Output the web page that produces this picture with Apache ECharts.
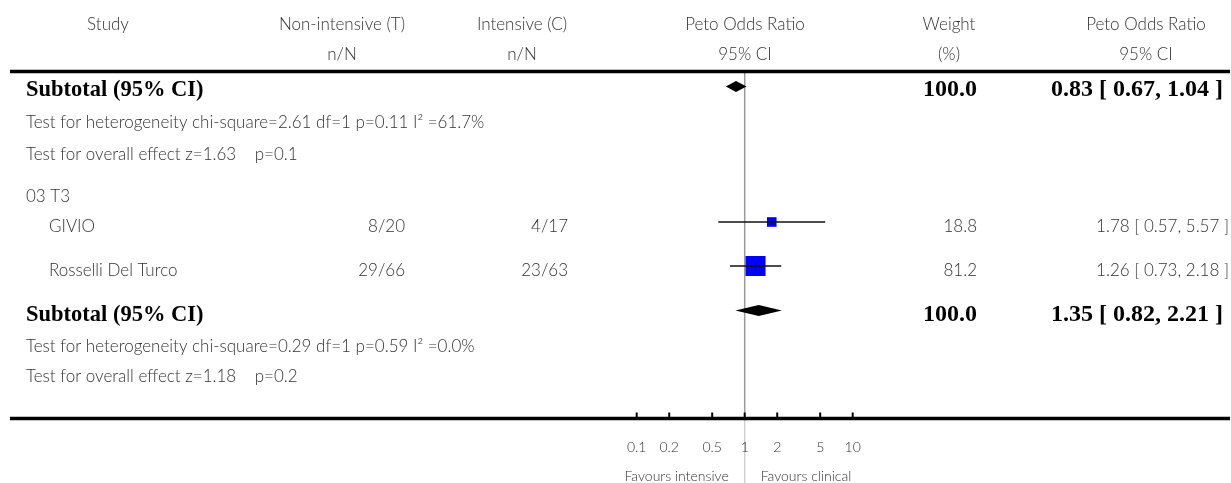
<!DOCTYPE html>
<html><head><meta charset="utf-8">
<script src="https://cdn.jsdelivr.net/npm/echarts@6/dist/echarts.min.js"></script>
<style>html,body{margin:0;padding:0;background:#fff}#c{width:1231px;height:483px}</style>
</head><body><div id="c"></div>
<script>
// ---------- data ----------
const headers1 = ['Study', 'Non-intensive (T)', 'Intensive (C)', 'Peto Odds Ratio', 'Weight', 'Peto Odds Ratio'];
const headers2 = ['', 'n/N', 'n/N', '95% CI', '(%)', '95% CI'];
const groupLabel = '03 T3';
const studies = ['GIVIO', 'Rosselli Del Turco'];
const nonIntensive = ['8/20', '29/66'];
const intensive = ['4/17', '23/63'];
const studyOR = [1.78, 1.26];
const studyLow = [0.57, 0.73];
const studyHigh = [5.57, 2.18];
const studyWeight = [18.8, 81.2];
const subtotalLabel = 'Subtotal (95% CI)';
const subOR = [0.83, 1.35];
const subLow = [0.67, 0.82];
const subHigh = [1.04, 2.21];
const subWeight = [100.0, 100.0];
const heterogeneity = [
  'Test for heterogeneity chi-square=2.61 df=1 p=0.11 I\u00B2 =61.7%',
  'Test for heterogeneity chi-square=0.29 df=1 p=0.59 I\u00B2 =0.0%'
];
const overallEffect = [
  'Test for overall effect z=1.63    p=0.1',
  'Test for overall effect z=1.18    p=0.2'
];
const tickValues = [0.1, 0.2, 0.5, 1, 2, 5, 10];
const tickLabels = ['0.1', '0.2', '0.5', '1', '2', '5', '10'];
const favours = ['Favours intensive', 'Favours clinical'];

// ---------- layout ----------
const L = {
  hx: [108, 342, 522, 745, 949, 1146],
  h1y: 25, h2y: 55,
  left: 26, indent: 49,
  nonX: 405, intX: 568, wX: 977, orX: 1229, orBoldX: 1223,
  topLine: 71.5, bottomLine: 418.5,
  sub1: 90, sub1Mark: 86.5, het1: 123, ov1: 155,
  group: 197, rows: [227, 271], rowMarks: [222, 266],
  sub2: 315, sub2Mark: 310.5, het2: 347, ov2: 377,
  tickLabelY: 447, favY: 476, favGap: 16
};
const SANS = 'Lato, "Open Sans", sans-serif';
const SERIF = '"Liberation Serif", "DejaVu Serif", serif';
const ST = {
  head: {fontFamily: SANS, fontSize: 17, fontWeight: 300, fill: '#333'},
  body: {fontFamily: SANS, fontSize: 17, fontWeight: 300, fill: '#333'},
  bold: {fontFamily: SERIF, fontSize: 22.5, fontWeight: 'bold', fill: '#000'},
  boldNum: {fontFamily: SERIF, fontSize: 24, fontWeight: 'bold', fill: '#000'},
  tick: {fontFamily: SANS, fontSize: 14, fontWeight: 300, fill: '#333'}
};

// ---------- build text items ----------
const texts = [];
function T(x, y, text, st, align) { texts.push({x, y, text: String(text), st, align}); }
headers1.forEach((h, i) => T(L.hx[i], L.h1y, h, ST.head, 'center'));
headers2.forEach((h, i) => { if (h) T(L.hx[i], L.h2y, h, ST.head, 'center'); });
const subYs = [L.sub1, L.sub2], hetYs = [L.het1, L.het2], ovYs = [L.ov1, L.ov2];
for (let k = 0; k < 2; k++) {
  T(L.left, subYs[k], subtotalLabel, ST.bold, 'left');
  T(L.wX, subYs[k], subWeight[k].toFixed(1), ST.boldNum, 'right');
  T(L.orBoldX, subYs[k], subOR[k].toFixed(2) + ' [ ' + subLow[k].toFixed(2) + ', ' + subHigh[k].toFixed(2) + ' ]', ST.boldNum, 'right');
  T(L.left, hetYs[k], heterogeneity[k], ST.body, 'left');
  T(L.left, ovYs[k], overallEffect[k], ST.body, 'left');
}
T(L.left, L.group, groupLabel, ST.body, 'left');
studies.forEach((s, i) => {
  const y = L.rows[i];
  T(L.indent, y, s, ST.body, 'left');
  T(L.nonX, y, nonIntensive[i], ST.body, 'right');
  T(L.intX, y, intensive[i], ST.body, 'right');
  T(L.wX, y, studyWeight[i].toFixed(1), ST.body, 'right');
  T(L.orX, y, studyOR[i].toFixed(2) + ' [ ' + studyLow[i].toFixed(2) + ', ' + studyHigh[i].toFixed(2) + ' ]', ST.body, 'right');
});

const chart = echarts.init(document.getElementById('c'), null, {renderer: 'canvas'});
const hidden = {show: false};
const option = {
  animation: false,
  backgroundColor: '#fff',
  grid: [
    {left: 0, top: 0, width: 1231, height: 483},
    {left: 528.7, top: 0, width: 432, height: 483}
  ],
  xAxis: [
    {type: 'value', gridIndex: 0, min: 0, max: 1231, axisLine: hidden, axisTick: hidden, axisLabel: hidden, splitLine: hidden},
    {type: 'log', gridIndex: 1, min: 0.01, max: 100, logBase: 10, axisLine: hidden, axisTick: hidden, axisLabel: hidden, splitLine: hidden}
  ],
  yAxis: [
    {type: 'value', gridIndex: 0, min: 0, max: 483, inverse: true, axisLine: hidden, axisTick: hidden, axisLabel: hidden, splitLine: hidden},
    {type: 'value', gridIndex: 1, min: 0, max: 483, inverse: true, axisLine: hidden, axisTick: hidden, axisLabel: hidden, splitLine: hidden}
  ],
  series: [
    {
      type: 'custom', xAxisIndex: 1, yAxisIndex: 1, clip: false, z: 1,
      data: [[1, 0]],
      renderItem: (p, api) => {
        const a = api.coord([api.value(0), L.topLine]);
        const b = api.coord([api.value(0), L.bottomLine]);
        const c = api.coord([api.value(0), 483]);
        return {type: 'group', children: [
          {type: 'line', shape: {x1: a[0], y1: a[1], x2: b[0], y2: b[1]}, style: {stroke: '#9a9a9a', lineWidth: 1.5}},
          {type: 'line', shape: {x1: b[0], y1: b[1], x2: c[0], y2: c[1]}, style: {stroke: '#d0d0d0', lineWidth: 1.5}}
        ]};
      }
    },
    {
      type: 'custom', xAxisIndex: 1, yAxisIndex: 1, clip: false, z: 3,
      data: studyOR.map((v, i) => [v, studyLow[i], studyHigh[i], studyWeight[i], L.rowMarks[i]]),
      renderItem: (p, api) => {
        const y = api.value(4);
        const c = api.coord([api.value(0), y]);
        const lo = api.coord([api.value(1), y]);
        const hi = api.coord([api.value(2), y]);
        const s = 20 * Math.sqrt(api.value(3) / 81.2);
        return {type: 'group', children: [
          {type: 'rect', shape: {x: c[0] - s / 2, y: c[1] - s / 2, width: s, height: s}, style: {fill: '#0000ff'}},
          {type: 'line', shape: {x1: lo[0], y1: c[1], x2: hi[0], y2: c[1]}, style: {stroke: '#111', lineWidth: 1.3}},
          {type: 'line', shape: {x1: c[0], y1: c[1] - 2.5, x2: c[0], y2: c[1] + 2.5}, style: {stroke: '#111', lineWidth: 1}}
        ]};
      }
    },
    {
      type: 'custom', xAxisIndex: 1, yAxisIndex: 1, clip: false, z: 3,
      data: subOR.map((v, i) => [v, subLow[i], subHigh[i], [L.sub1Mark, L.sub2Mark][i]]),
      renderItem: (p, api) => {
        const y = api.value(3);
        const c = api.coord([api.value(0), y]);
        const lo = api.coord([api.value(1), y]);
        const hi = api.coord([api.value(2), y]);
        const h = 5.5;
        return {type: 'polygon', shape: {points: [[lo[0], c[1]], [c[0], c[1] - h], [hi[0], c[1]], [c[0], c[1] + h]]}, style: {fill: '#000'}};
      }
    },
    {
      type: 'custom', xAxisIndex: 1, yAxisIndex: 1, clip: false, z: 4,
      data: tickValues.map(v => [v, L.bottomLine]),
      renderItem: (p, api) => {
        const b = api.coord([api.value(0), L.bottomLine]);
        const t = api.coord([api.value(0), L.tickLabelY]);
        return {type: 'group', children: [
          {type: 'line', shape: {x1: b[0], y1: b[1] - 6, x2: b[0], y2: b[1]}, style: {stroke: '#000', lineWidth: 2}},
          {type: 'text', style: Object.assign({x: t[0], y: t[1], text: tickLabels[p.dataIndex], align: 'center', verticalAlign: 'middle'}, ST.tick)}
        ]};
      }
    },
    {
      type: 'custom', xAxisIndex: 1, yAxisIndex: 1, clip: false, z: 4,
      data: [[1, L.favY]],
      renderItem: (p, api) => {
        const c = api.coord([api.value(0), api.value(1)]);
        return {type: 'group', children: [
          {type: 'text', style: Object.assign({x: c[0] - L.favGap, y: c[1], text: favours[0], align: 'right', verticalAlign: 'middle'}, ST.tick)},
          {type: 'text', style: Object.assign({x: c[0] + L.favGap, y: c[1], text: favours[1], align: 'left', verticalAlign: 'middle'}, ST.tick)}
        ]};
      }
    },
    {
      type: 'custom', xAxisIndex: 0, yAxisIndex: 0, clip: false, z: 5,
      data: [[10, L.topLine], [10, L.bottomLine]],
      renderItem: (p, api) => {
        const a = api.coord([10, api.value(1)]);
        const b = api.coord([1230, api.value(1)]);
        return {type: 'line', shape: {x1: a[0], y1: a[1], x2: b[0], y2: b[1]}, style: {stroke: '#000', lineWidth: 3.5}};
      }
    },
    {
      type: 'custom', xAxisIndex: 0, yAxisIndex: 0, clip: false, z: 6,
      data: texts.map(t => [t.x, t.y]),
      renderItem: (p, api) => {
        const t = texts[p.dataIndex];
        const c = api.coord([api.value(0), api.value(1)]);
        return {type: 'text', style: Object.assign({x: c[0], y: c[1], text: t.text, align: t.align, verticalAlign: 'middle'}, t.st)};
      }
    }
  ]
};
chart.setOption(option);
</script>
</body></html>
